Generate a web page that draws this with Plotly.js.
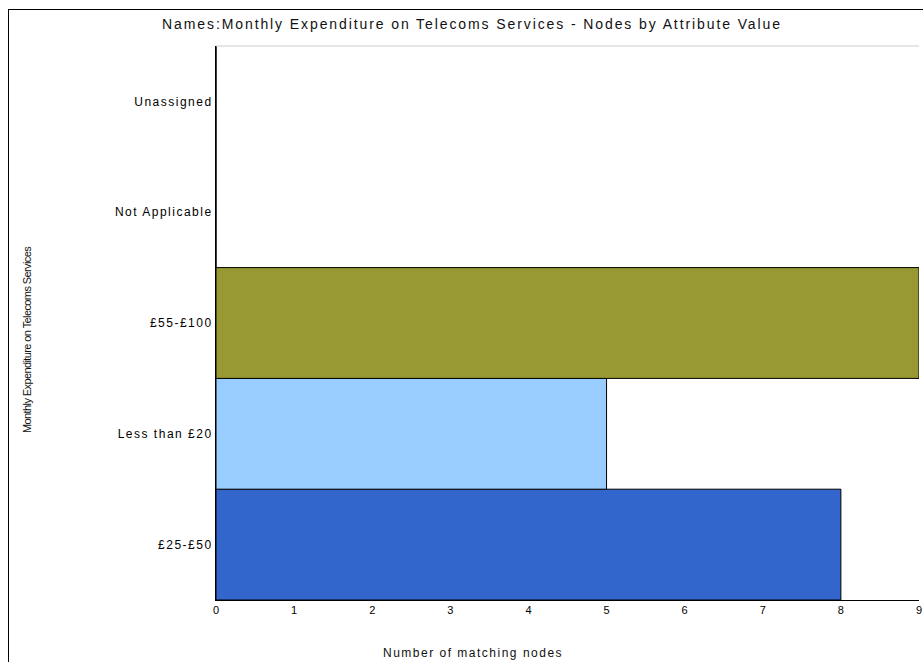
<!DOCTYPE html>
<html><head><meta charset="utf-8">
<script src="https://cdn.plot.ly/plotly-3.0.1.min.js"></script>
<style>
html,body{margin:0;padding:0;background:#fff;}
#frame{position:absolute;left:8px;top:9px;width:1000px;height:800px;border-left:1px solid #000;border-top:1px solid #000;pointer-events:none;z-index:5;}
#chart{width:923px;height:662px;}
.gtitle{letter-spacing:1.9px;}
.ytick text{letter-spacing:1.5px;}
.xtick text{letter-spacing:0px;}
</style>
</head><body>
<div id="frame"></div>
<div id="chart"></div>
<script>
const categories = ["£25-£50", "Less than £20", "£55-£100", "Not Applicable", "Unassigned"];
const counts = [8, 5, 9, 0, 0];
const barColors = ["#3366cc", "#99ccff", "#999933", "#ffffff", "#ffffff"];
const xTicks = [0,1,2,3,4,5,6,7,8,9];
const xTitle = 'Number of matching nodes';
const yTitle = 'Monthly Expenditure on Telecoms Services';
const chartTitle = 'Names:Monthly Expenditure on Telecoms Services - Nodes by Attribute Value';

const trace = {
  type: 'bar',
  orientation: 'h',
  y: categories,
  x: counts,
  marker: {color: barColors, line: {color: '#000', width: 1}},
  hoverinfo: 'x+y'
};

const layout = {
  width: 923, height: 662,
  margin: {l: 216, r: 4, t: 46, b: 62},
  paper_bgcolor: '#fff', plot_bgcolor: '#fff',
  font: {family: 'Liberation Sans, Arial, sans-serif', color: '#000', size: 11},
  title: {text: chartTitle,
          font: {size: 14, color: '#111'}, x: 472/923, xanchor: 'center', y: 1 - 24/662, yanchor: 'middle', yref: 'container'},
  bargap: 0,
  showlegend: false,
  xaxis: {
    range: [0, 9], tickvals: xTicks, ticktext: xTicks.map(String),
    showgrid: false, zeroline: false, showline: true, linecolor: '#000', linewidth: 1,
    ticks: '', ticklen: 0, tickfont: {size: 11},
    automargin: false, fixedrange: true
  },
  yaxis: {
    categoryorder: 'array', categoryarray: categories,
    showgrid: false, zeroline: false, showline: true, linecolor: '#000', linewidth: 1,
    ticks: '', ticklen: 0, tickfont: {size: 12},
    automargin: false, fixedrange: true
  },
  annotations: [
    {text: xTitle, xref: 'paper', yref: 'paper', x: (473-216)/703, y: (600-653)/554,
     xanchor: 'center', yanchor: 'middle', showarrow: false, font: {size: 12, color: '#111'}},
    {text: yTitle, xref: 'paper', yref: 'paper', x: (27-216)/703, y: (600-340)/554,
     xanchor: 'center', yanchor: 'middle', textangle: -90, showarrow: false, font: {size: 11, color: '#111'}}
  ],
  shapes: [{type: 'line', xref: 'paper', yref: 'paper', x0: 0, x1: 1, y0: 1, y1: 1, line: {color: '#cccccc', width: 1}}]
};

Plotly.newPlot('chart', [trace], layout, {displayModeBar: false, staticPlot: true}).then(function(gd){
  const anns = gd.querySelectorAll('.annotation-text');
  if (anns[0]) anns[0].style.letterSpacing = '1.5px';
  if (anns[1]) anns[1].style.letterSpacing = '-0.6px';
});
</script>
</body></html>
